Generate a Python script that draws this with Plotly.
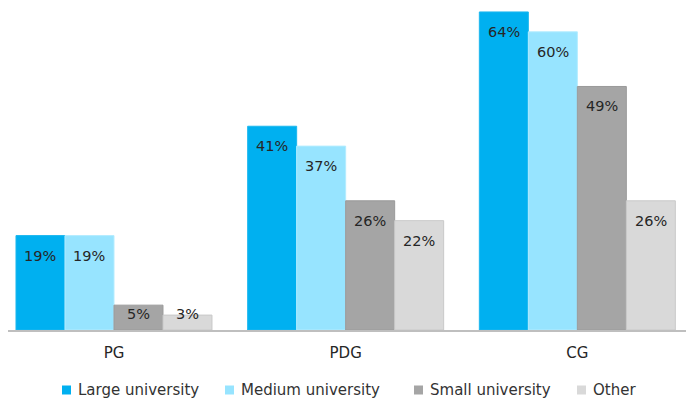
import plotly.graph_objects as go

# Categories and series values (%)
categories = ["PG", "PDG", "CG"]
series_names = ["Large university", "Medium university", "Small university", "Other"]
large = [19, 41, 64]
medium = [19, 37, 60]
small = [5, 26, 49]
other = [3, 22, 26]

values = [large, medium, small, other]
colors = ["#00B0F0", "#97E4FF", "#A5A5A5", "#D9D9D9"]
edge_colors = ["#1CB7EE", "#B3ECFF", "#9A9A9A", "#C9C9C9"]

FONT = "DejaVu Sans"
W, H = 686, 399
margin = dict(l=8, r=0, t=2, b=69)
y_max = 66
plot_w = W - margin["l"] - margin["r"]
plot_h = H - margin["t"] - margin["b"]
px_per_unit = plot_h / y_max

bar_w = 0.2115
first_offset = -0.423
label_drop = 20      # px from bar top to label centre
label_floor = 16     # label centre never closer than this to the baseline

fig = go.Figure()
annotations = []
shapes = []
xs = list(range(len(categories)))
for i, (name, vals) in enumerate(zip(series_names, values)):
    off = first_offset + i * bar_w
    fig.add_trace(go.Bar(
        x=xs, y=vals, name=name,
        width=bar_w, offset=off,
        marker=dict(color=colors[i], line=dict(color=edge_colors[i], width=1)),
        hoverinfo="skip", showlegend=False,
    ))
    for xi, v in zip(xs, vals):
        if v * px_per_unit - label_drop >= label_floor:
            y, shift = v, -label_drop
        else:
            y, shift = 0, label_floor
        annotations.append(dict(
            x=xi + off + bar_w / 2, y=y, xref="x", yref="y",
            text=f"{v}%", showarrow=False, yanchor="middle", yshift=shift,
            font=dict(family=FONT, size=14.5, color="#262626"),
        ))


def px_to_paper_x(px):
    return (px - margin["l"]) / plot_w


def px_to_paper_y(py):
    return (H - margin["b"] - py) / plot_h


# Legend: small square swatch followed by the series name
legend_x = [62, 225, 414, 577]
legend_y = 390
sq = 9
for i, name in enumerate(series_names):
    x0 = legend_x[i]
    shapes.append(dict(
        type="rect", xref="paper", yref="paper",
        x0=px_to_paper_x(x0), x1=px_to_paper_x(x0 + sq),
        y0=px_to_paper_y(legend_y + sq / 2), y1=px_to_paper_y(legend_y - sq / 2),
        fillcolor=colors[i], line=dict(width=0),
    ))
    annotations.append(dict(
        x=px_to_paper_x(x0 + sq + 5), y=px_to_paper_y(legend_y - 0.5),
        xref="paper", yref="paper", xanchor="left", yanchor="middle",
        text=name, showarrow=False,
        font=dict(family=FONT, size=15, color="#333333"),
    ))

fig.update_layout(
    width=W, height=H,
    margin=dict(margin, autoexpand=False),
    paper_bgcolor="white", plot_bgcolor="white",
    barmode="overlay",
    showlegend=False,
    annotations=annotations,
    shapes=shapes,
    font=dict(family=FONT),
)
fig.update_xaxes(
    range=[-0.4575, 2.469],
    tickvals=xs, ticktext=categories,
    showline=True, linecolor="#BFBFBF", linewidth=1.5,
    showgrid=False, zeroline=False, ticks="",
    ticklabelstandoff=8,
    tickfont=dict(family=FONT, size=15, color="#262626"),
)
fig.update_yaxes(range=[0, y_max], visible=False, showgrid=False, zeroline=False)

fig.write_html("out.html")
